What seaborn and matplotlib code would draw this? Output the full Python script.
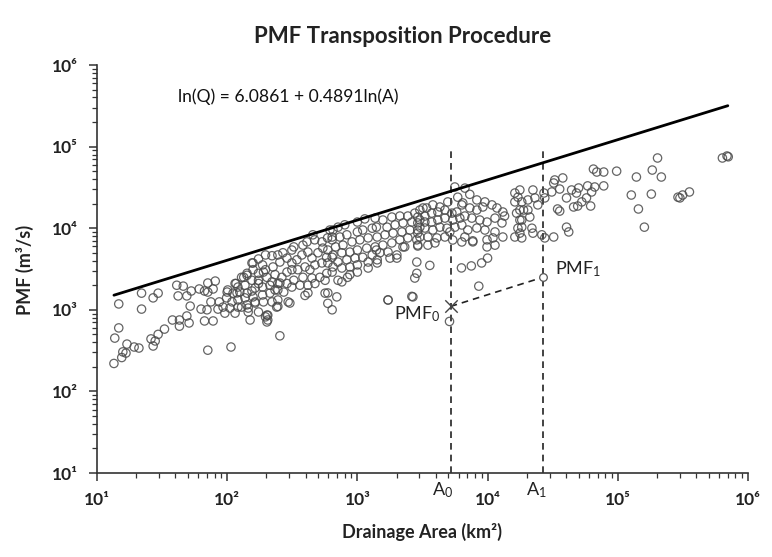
import matplotlib
matplotlib.use("Agg")
import matplotlib.pyplot as plt
import seaborn as sns
import pandas as pd
from matplotlib.ticker import LogLocator, NullFormatter, FixedLocator, FixedFormatter

# ---------------- data ----------------
area = [
    # small basins
    13.5, 13.7, 14.7, 14.7, 15.5, 16.7, 17, 19.3, 21, 22, 22, 27, 29.5, 26, 27, 28, 29.5, 33, 38, 43,
    43, 51, 41, 46, 42, 49, 53, 52, 49, 61, 67, 71, 81, 71, 78, 63, 67, 78, 75, 70,
    85, 87, 93, 100, 71, 107, 96, 117, 119, 134, 142, 129, 145, 155, 158, 150, 164, 174, 190, 202,
    205, 221, 225, 245, 254, 233, 190, 187, 254, 221, 15.8,
    # 100 - 700 km2
    174, 155, 197, 245, 268, 314, 325, 382, 410, 470, 455, 535, 590, 640, 650,
    158, 174, 197, 254, 288, 314, 343, 375, 417, 448, 498, 543, 593, 640,
    115, 129, 142, 121, 137, 155, 174, 202, 233, 263, 288, 314, 349, 396, 432, 472, 534, 593, 650,
    101, 111, 125, 142, 164, 187, 213, 245, 288, 325, 382, 448, 515, 582,
    99, 109, 121, 137, 158, 187, 213, 245, 272, 314, 362, 417, 472, 565,
    105, 121, 142, 164, 221, 245, 294, 396, 565, 593, 640,
    115, 145, 174, 205, 240, 202, 197,
    695, 593, 417, 303, 1720, 2670, 2760, 2860, 3600, 6300, 7500, 5400, 6340, 7700, 6450, 5600, 7300,
    # 600 - 3000 km2
    615, 710, 800, 1000, 1140, 1370, 1570, 1840, 2120, 2440, 2760, 3190, 3020,
    640, 734, 830, 1000, 1100, 1300, 1400, 1690, 1950, 2240, 2620, 3020,
    680, 775, 910, 1045, 1210, 1420, 1630, 1880, 2200, 2530, 2910,
    580, 650, 760, 876, 1000, 1180, 1370, 1570, 1840, 2120, 2440, 2860,
    710, 830, 960, 1100, 1300, 1490, 1720, 2010, 2310,
    640, 760, 876, 1000, 1210, 1420, 1780, 2010,
    710, 840, 1000, 1210, 1420, 760, 876, 2910, 1400, 2240,
    # 3000 - 20000 km2
    6700, 5900, 4950, 4300, 3800, 3400, 3020, 8270, 9540, 10800, 11800, 13100, 13500, 16200, 17700,
    16200, 18300, 18900, 16700, 17700, 18300, 16200, 18300, 6340, 7300, 8270, 9200, 6690, 7570, 8720,
    9900, 11400, 12900, 2910, 3300, 3720, 4150, 4700, 5320, 5800, 2910, 3300, 3720, 4150, 4700,
    5410, 6120, 2910, 3300, 3800, 4300, 4870, 5610, 6340, 3020, 3480, 4080, 4700, 5130, 7050,
    8270, 9540, 11400, 13100, 11000, 11400, 2910, 3480, 3940, 6690, 7700, 9000, 10000, 9900, 9900,
    2860, 8560, 1720, 2620, 5100,
    # large basins
    65000, 69000, 78000, 98000, 139000, 127000, 144000, 160000, 37800, 32800, 32200, 78000, 66500,
    58700, 50000, 44200, 35800, 31100, 27100, 63000, 40400, 48200, 57500, 52900, 49200, 61900, 45800,
    34500, 35800, 23100, 20400, 22300, 17100, 24300, 27500, 17700, 20400, 21100, 18300, 17100, 17700,
    21900, 22300, 26100, 27500, 32200, 40400, 42000,
    202000, 184000, 216000, 181000, 300000, 315000, 355000, 290000, 636000, 690000, 705000,
]
pmf = [
    220, 450, 600, 1180, 260, 295, 380, 350, 340, 1600, 1020, 1400, 1600, 440, 360, 415, 500, 580, 750, 750,
    630, 690, 2000, 1950, 1480, 1480, 1700, 1110, 840, 1800, 1700, 2130, 2250, 1650, 1800, 1020, 730, 730, 1250, 1000,
    1020, 1250, 1080, 1650, 320, 350, 910, 2100, 1610, 2500, 2650, 1080, 1050, 1700, 3750, 750, 1250, 2100, 1250, 860,
    750, 4600, 3350, 1100, 480, 1750, 2900, 3550, 2130, 2200, 305,
    4200, 3750, 4700, 4700, 5000, 5400, 5900, 6200, 6800, 7200, 8300, 6800, 7600, 7800, 9500,
    3100, 2800, 3100, 3850, 4300, 3750, 4100, 4700, 5100, 4300, 5000, 5700, 5400, 4400,
    2100, 2500, 2800, 1900, 2000, 2300, 2300, 2500, 2700, 2500, 2900, 3100, 3100, 3350, 3100, 3550, 3750, 3750, 3350,
    1750, 1600, 1650, 1600, 1850, 1900, 2000, 2100, 2100, 2300, 2500, 2450, 2500, 2800,
    1400, 1250, 1320, 1400, 1440, 1520, 1600, 1750, 1650, 1900, 2000, 2000, 2100, 2300,
    1050, 1080, 1150, 1210, 1250, 1320, 1250, 1500, 1600, 1200, 1000,
    910, 940, 940, 860, 1080, 710, 820,
    1440, 1610, 1610, 1210, 1320, 1440, 2450, 3850, 3500, 3260, 3450, 7170, 6780, 7000, 20400, 32000, 26000,
    9500, 10300, 11000, 11900, 13000, 13300, 12600, 13700, 14100, 14100, 15300, 17700, 12600,
    7200, 7800, 8300, 9000, 9500, 10000, 10300, 10300, 11000, 11600, 11900, 10300,
    5900, 6200, 6800, 7200, 7600, 7800, 8300, 8700, 9000, 9500, 8700,
    4400, 4700, 5000, 5100, 5400, 5700, 5900, 6200, 6600, 7200, 7600, 7200,
    3850, 4100, 4300, 4400, 4700, 5000, 5100, 4700, 5900,
    2900, 3250, 3350, 3550, 3850, 3750, 4300, 4300,
    2300, 2500, 2900, 3250, 4100, 2200, 2700, 6050, 5400, 5900,
    31000, 24000, 21000, 18200, 19300, 17700, 16700, 22200, 21000, 19300, 17700, 15800, 14100, 27000, 29400,
    21000, 21000, 16700, 15300, 12600, 10300, 7800, 7600, 19300, 17700, 16700, 18200, 14100, 13300, 12600,
    11900, 13300, 11600, 13700, 14100, 15300, 15800, 16700, 15300, 15800, 11600, 11900, 11900, 12600, 13300,
    12600, 13300, 9500, 10050, 9500, 10300, 10000, 10300, 10950, 7800, 7800, 7600, 7800, 9000, 9500,
    10050, 9500, 9000, 7800, 7600, 6200, 6220, 6200, 6600, 7800, 6800, 3750, 4300, 5900, 7200,
    2800, 1950, 1320, 1460, 720,
    53000, 48800, 48800, 50000, 42400, 25500, 17200, 10300, 41300, 39000, 35800, 33000, 32000,
    33000, 31100, 29400, 30200, 27800, 27000, 27800, 23500, 27000, 23500, 21000, 18700, 18700, 18200,
    17200, 16200, 23500, 22200, 29400, 24000, 19300, 23500, 16700, 16700, 13700, 12600, 10000, 8700,
    10000, 8700, 8300, 7600, 7800, 10300, 9000,
    72500, 51600, 42400, 26200, 23500, 25500, 27800, 24000, 72500, 76700, 75000,
]

# envelope line ln(Q) = 6.0861 + 0.4891 ln(A), drawn between its end areas
line_area = [13.5, 7.0e5]
line_pmf = [1510, 3.17e5]

# transposition points
A0, A1 = 5200, 26500
PMF0, PMF1 = 1100, 2500
vline_top = 1.0e5

equation = "ln(Q) = 6.0861 + 0.4891ln(A)"
title = "PMF Transposition Procedure"
xlabel = "Drainage Area (km²)"
ylabel = "PMF (m³/s)"
decades = [1, 2, 3, 4, 5, 6]
tick_text = ["10¹", "10²", "10³", "10⁴", "10⁵", "10⁶"]

# ---------------- plotting ----------------
sns.set_theme(style="ticks")
plt.rcParams["font.family"] = ["Lato", "DejaVu Sans"]
plt.rcParams["mathtext.default"] = "regular"
FAM = ["Lato", "DejaVu Sans"]

fig = plt.figure(figsize=(7.72, 5.57), dpi=100)
ax = fig.add_axes([0.1256, 0.1508, 0.8433, 0.7325])

df = pd.DataFrame({"area": area, "pmf": pmf})
sns.scatterplot(data=df, x="area", y="pmf", ax=ax, marker="o", s=36,
                facecolor="none", edgecolor="#4a4a4a", linewidth=0.9, alpha=0.85,
                legend=False, zorder=3)

ldf = pd.DataFrame({"area": line_area, "pmf": line_pmf})
sns.lineplot(data=ldf, x="area", y="pmf", ax=ax, color="black", linewidth=2.0, zorder=4)

ax.set_xscale("log")
ax.set_yscale("log")
ax.set_xlim(10, 1e6)
ax.set_ylim(10, 1e6)

# dashed verticals at A0, A1
for a in (A0, A1):
    ax.plot([a, a], [10, vline_top], linestyle=(0, (4, 3)), color="#222222", linewidth=1.2, zorder=2)
# transposition dashed link
ax.plot([A0, A1], [PMF0, PMF1], linestyle=(0, (4, 3)), color="#222222", linewidth=1.2, zorder=5)
ax.scatter([A0], [PMF0], marker="x", s=80, color="#444444", linewidths=1.0, zorder=6)
ax.scatter([A1], [PMF1], marker="o", s=30, facecolor="white", edgecolor="#555555", linewidths=0.9, zorder=6)

ax.annotate("PMF$_0$", xy=(A0, PMF0), xytext=(-10, -8), textcoords="offset pixels",
            ha="right", va="center", fontsize=13, color="#222222")
ax.annotate("PMF$_1$", xy=(A1, PMF1), xytext=(12, 8), textcoords="offset pixels",
            ha="left", va="center", fontsize=13, color="#222222")
ax.annotate("A$_0$", xy=(A0, 0), xycoords=("data", "axes fraction"), xytext=(-8, -17),
            textcoords="offset pixels", ha="center", va="center", fontsize=13, color="#222222")
ax.annotate("A$_1$", xy=(A1, 0), xycoords=("data", "axes fraction"), xytext=(-6, -17),
            textcoords="offset pixels", ha="center", va="center", fontsize=13, color="#222222")

ax.text(0.124, 0.922, equation, transform=ax.transAxes, ha="left", va="center",
        fontsize=12.6, family=FAM, color="#111111")

# axes styling
sns.despine(ax=ax)
for sp in ("left", "bottom"):
    ax.spines[sp].set_color("#333333")
    ax.spines[sp].set_linewidth(1.2)

majors = [10.0 ** d for d in decades]
for axis in (ax.xaxis, ax.yaxis):
    axis.set_major_locator(FixedLocator(majors))
    axis.set_major_formatter(FixedFormatter(tick_text))
    axis.set_minor_locator(LogLocator(base=10, subs=range(2, 10), numticks=20))
    axis.set_minor_formatter(NullFormatter())
ax.tick_params(which="major", direction="out", length=6, width=1.1, color="#333333", pad=8)
ax.tick_params(which="minor", direction="out", length=3.5, width=0.9, color="#333333")
for lab in ax.get_xticklabels() + ax.get_yticklabels():
    lab.set_fontweight("bold")
    lab.set_fontsize(12.5)
    lab.set_family(FAM)
    lab.set_color("#222222")
ax.set_xlabel("")
ax.set_ylabel("")

fig.text(0.522, 0.934, title, ha="center", va="center", fontsize=16, fontweight="bold", family=FAM, color="#222222")
fig.text(0.547, 0.045, xlabel, ha="center", va="center", fontsize=13, fontweight="bold", family=FAM, color="#222222")
fig.text(0.032, 0.515, ylabel, ha="center", va="center", rotation=90, fontsize=13, fontweight="bold", family=FAM, color="#222222")

fig.savefig("out.png", dpi=100)
